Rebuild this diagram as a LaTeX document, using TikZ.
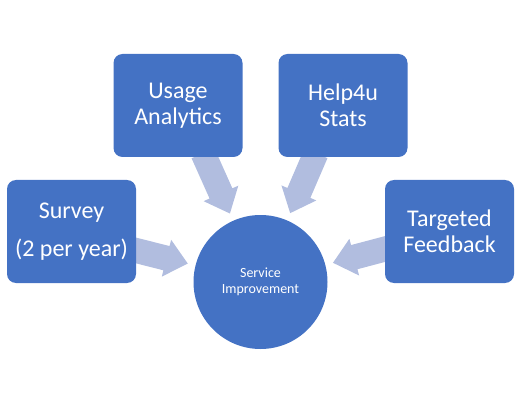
\documentclass[tikz,border=0pt]{standalone}
\usepackage{fontspec}
\setmainfont{Carlito}
\usetikzlibrary{calc,backgrounds}
\definecolor{boxblue}{HTML}{4472C4}
\definecolor{arrowblue}{HTML}{B1BDDF}
\newcommand{\myblockarrow}[2]{%
  \path ($(#1)$) coordinate (t) ($(#2)$) coordinate (p);
  \path ($(p)!22pt!(t)$) coordinate (b);
  \fill[arrowblue] ($(t)!12.5pt!90:(p)$) -- ($(b)!12.5pt!-90:(t)$) -- ($(b)!19pt!-90:(t)$) -- (p)
    -- ($(b)!19pt!90:(t)$) -- ($(b)!12.5pt!90:(t)$) -- ($(t)!12.5pt!-90:(p)$) -- cycle;
}
\begin{document}
\begin{tikzpicture}[x=1pt,y=-1pt,
  srcbox/.style={fill=boxblue, rounded corners=9pt, minimum width=129pt, minimum height=103pt,
    text=white, align=center, inner sep=0pt, font=\fontsize{24}{26}\selectfont},
  hub/.style={circle, fill=boxblue, minimum size=134pt, inner sep=0pt, text=white,
    align=center, font=\fontsize{14}{15.5}\selectfont}]
\useasboundingbox (0,0) rectangle (515,404);
\node[srcbox] (survey) at (71.5,231.5) {Survey\\[12pt](2 per year)};
\node[srcbox] (usage) at (178,105.5) {Usage\\Analytics};
\node[srcbox] (help) at (343,105.5) {Help4u\\Stats};
\node[srcbox] (target) at (449.5,231.5) {Targeted\\Feedback};
\node[hub] (hubc) at (260.5,282) {Service\\Improvement};
\coordinate (ts) at ($(survey.east)+(-4,18)$);
\coordinate (tu) at ($(usage.south)+(25,-4)$);
\coordinate (th) at ($(help.south)+(-27,-4)$);
\coordinate (tt) at ($(target.west)+(4,16.5)$);
\coordinate (ps) at ($(hubc.center)!75pt!(ts)$);
\coordinate (pu) at ($(hubc.center)!75pt!(tu)$);
\coordinate (ph) at ($(hubc.center)!75pt!(th)$);
\coordinate (pt) at ($(hubc.center)!75pt!(tt)$);
\begin{pgfonlayer}{background}
\myblockarrow{ts}{ps}
\myblockarrow{tu}{pu}
\myblockarrow{th}{ph}
\myblockarrow{tt}{pt}
\end{pgfonlayer}
\end{tikzpicture}
\end{document}
